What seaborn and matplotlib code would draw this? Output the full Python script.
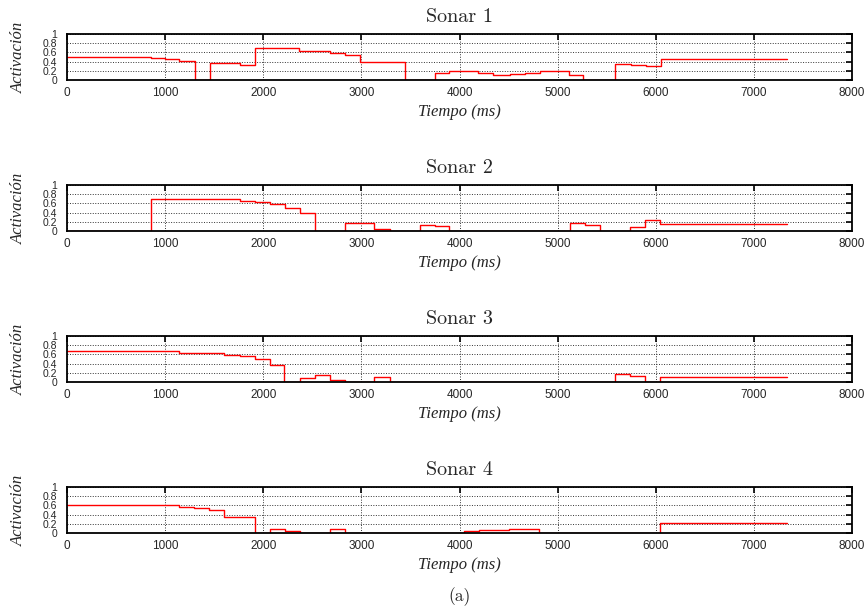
import matplotlib
matplotlib.use("Agg")
import matplotlib.pyplot as plt
import seaborn as sns
import pandas as pd

# Sensor activation over time (step signals), one trace per sonar
sonar_names = ["Sonar 1", "Sonar 2", "Sonar 3", "Sonar 4"]

t_sonar1 = [0, 860, 1000, 1143, 1303, 1456, 1602, 1762, 1915, 2061, 2367, 2520, 2677,
            2830, 2983, 3442, 3755, 3895, 4190, 4344, 4514, 4667, 4820, 4997, 5116,
            5262, 5586, 5746, 5898, 6051, 7339]
a_sonar1 = [0.49, 0.47, 0.45, 0.42, 0.0, 0.38, 0.36, 0.335, 0.70, 0.705, 0.64, 0.62, 0.59,
            0.545, 0.40, 0.0, 0.145, 0.19, 0.145, 0.116, 0.12, 0.153, 0.19, 0.185, 0.116,
            0.0, 0.35, 0.335, 0.31, 0.46, 0.46]

t_sonar2 = [0, 857, 1758, 1912, 2065, 2218, 2371, 2531, 2830, 3129, 3289, 3595, 3748,
            3891, 5124, 5277, 5436, 5742, 5895, 6048, 7338]
a_sonar2 = [0.0, 0.69, 0.66, 0.63, 0.59, 0.51, 0.39, 0.0, 0.165, 0.05, 0.0, 0.13, 0.107,
            0.0, 0.18, 0.136, 0.0, 0.086, 0.236, 0.143, 0.143]

t_sonar3 = [0, 1146, 1299, 1452, 1605, 1758, 1912, 2065, 2211, 2371, 2524, 2677, 2830,
            3129, 3289, 5589, 5742, 5895, 6048, 7338]
a_sonar3 = [0.67, 0.636, 0.625, 0.62, 0.59, 0.557, 0.49, 0.38, 0.0, 0.093, 0.15, 0.036, 0.0,
            0.114, 0.0, 0.164, 0.13, 0.0, 0.107, 0.107]

t_sonar4 = [0, 1146, 1299, 1452, 1605, 1912, 2065, 2218, 2371, 2677, 2830, 4044, 4197,
            4503, 4655, 4808, 6048, 7338]
a_sonar4 = [0.60, 0.57, 0.54, 0.49, 0.355, 0.0, 0.094, 0.043, 0.01, 0.094, 0.0, 0.043, 0.072,
            0.094, 0.085, 0.0, 0.217, 0.217]

times = [t_sonar1, t_sonar2, t_sonar3, t_sonar4]
activations = [a_sonar1, a_sonar2, a_sonar3, a_sonar4]

x_ticks = [0, 1000, 2000, 3000, 4000, 5000, 6000, 7000, 8000]
y_ticks = [0, 0.2, 0.4, 0.6, 0.8, 1.0]
y_tick_labels = ["0", "0.2", "0.4", "0.6", "0.8", "1"]

sns.set_style("white")
plt.rcParams["font.family"] = ["Liberation Sans", "DejaVu Sans"]

W, H = 868, 612
fig = plt.figure(figsize=(W / 100, H / 100), dpi=100)

roman = ["cmr10", "Liberation Serif", "DejaVu Serif"]
serif = ["Liberation Serif", "DejaVu Serif"]
panel_rows = [(34, 80), (185, 231), (336, 382), (487, 533)]
left_px, right_px = 67, 852

for name, t, a, (top, bot) in zip(sonar_names, times, activations, panel_rows):
    ax = fig.add_axes([left_px / W, 1 - bot / H, (right_px - left_px) / W, (bot - top) / H])
    df = pd.DataFrame({"t": t, "a": a})
    sns.lineplot(data=df, x="t", y="a", ax=ax, color="#ff0000", linewidth=1.0,
                 drawstyle="steps-post", estimator=None, sort=False)
    ax.set_xlim(0, 8000)
    ax.set_ylim(0, 1)
    ax.set_xticks(x_ticks)
    ax.set_xticklabels([str(v) for v in x_ticks])
    ax.set_yticks(y_ticks)
    ax.set_yticklabels(y_tick_labels)
    ax.grid(True, linestyle=(0, (1, 1.6)), color="#333333", linewidth=0.7)
    ax.tick_params(axis="both", direction="in", length=4, width=1.2,
                   top=True, right=True, color="black")
    ax.tick_params(axis="x", pad=5, labelsize=8.5)
    ax.tick_params(axis="y", pad=7, labelsize=7.5)
    for s in ax.spines.values():
        s.set_linewidth(1.3)
        s.set_color("black")
    ax.set_title(name, family=roman, fontsize=14.5, pad=8.5)
    ax.set_xlabel("Tiempo (ms)", family=serif, style="italic", fontsize=12)
    ax.set_ylabel("Activación", family=serif, style="italic", fontsize=12)
    ax.xaxis.set_label_coords(0.5, (80 - 104) / 46)
    ax.yaxis.set_label_coords((27 - left_px) / (right_px - left_px), 0.5)

fig.text(0.5298, 1 - 597 / H, "(a)", family=roman, fontsize=12.5, ha="center", va="center")

fig.savefig("out.png", dpi=100)
